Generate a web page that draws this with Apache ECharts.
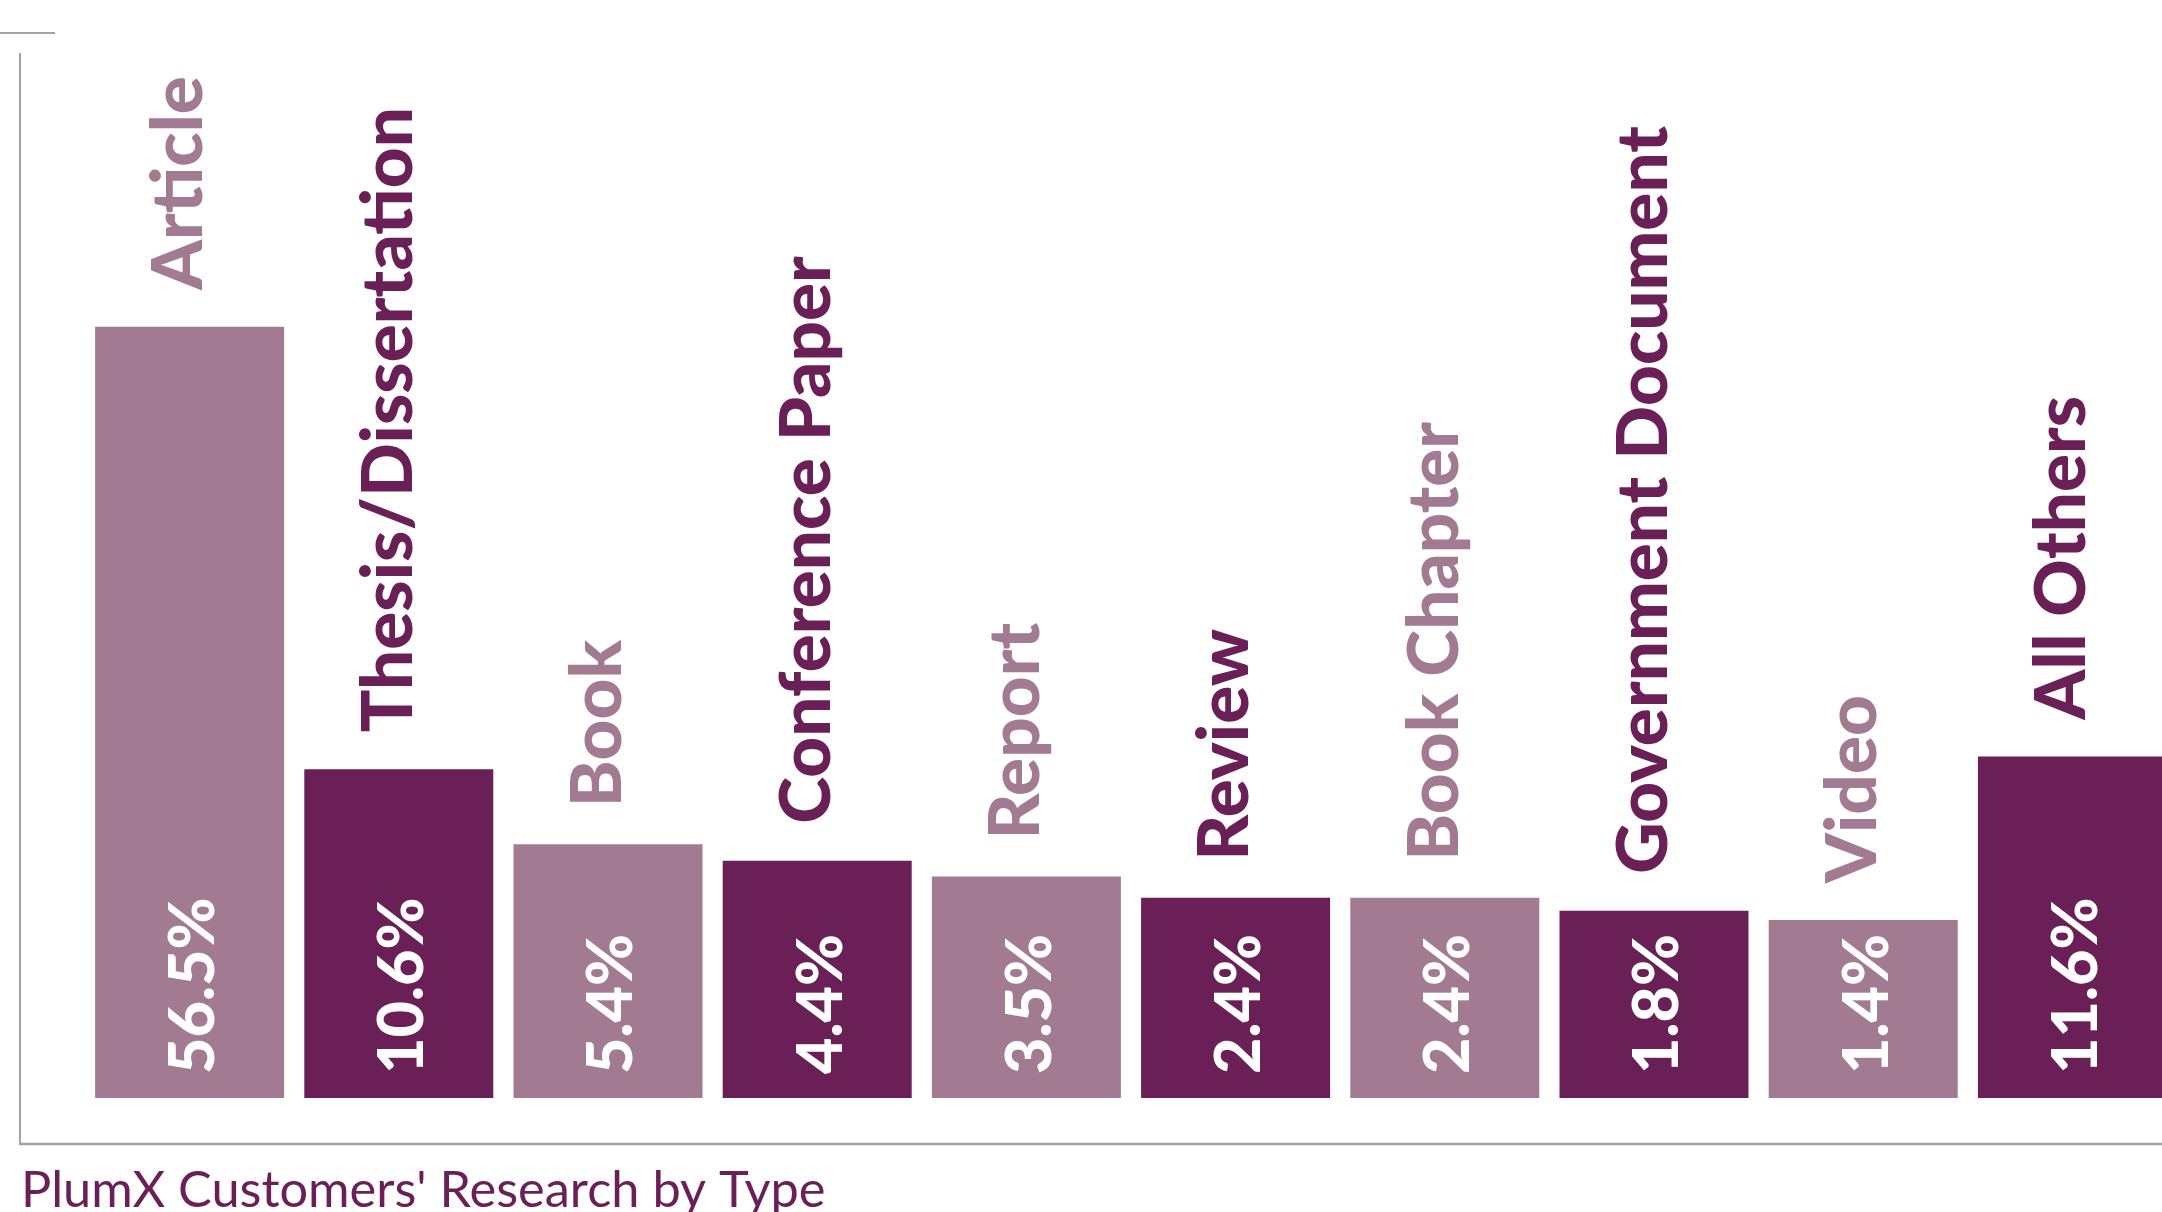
<!DOCTYPE html>
<html>
<head>
<meta charset="utf-8">
<title>PlumX Customers' Research by Type</title>
<script src="https://cdn.jsdelivr.net/npm/echarts@6/dist/echarts.min.js"></script>
<style>
  html, body { margin: 0; padding: 0; background: #ffffff; }
  #chart { width: 2162px; height: 1212px; }
</style>
</head>
<body>
<div id="chart"></div>
<script>
// Research output types and their share of all items (%)
const categories = [
  'Article', 'Thesis/Dissertation', 'Book', 'Conference Paper', 'Report',
  'Review', 'Book Chapter', 'Government Document', 'Video', 'All Others'
];
const shares = [56.5, 10.6, 5.4, 4.4, 3.5, 2.4, 2.4, 1.8, 1.4, 11.6];

const LIGHT = '#a27b93';
const DARK = '#6a1f57';
const FRAME = '#a3a3a3';

// Alternate the two plum tones across the bars
const tone = i => (i % 2 ? DARK : LIGHT);

// Compressed height scale (offset power curve) so the small
// categories keep enough room for their rotated labels
const SCALE_EXP = 0.7;
const SCALE_BASE = 3.41;
const scaled = v => SCALE_BASE + Math.pow(v, SCALE_EXP);

const chart = echarts.init(document.getElementById('chart'), null, { renderer: 'canvas' });

const labelFont = { fontFamily: 'Lato', fontWeight: 900 };

chart.setOption({
  animation: false,
  backgroundColor: '#ffffff',
  title: {
    text: "PlumX Customers' Research by Type",
    left: 16,
    top: 1160,
    textStyle: { fontFamily: 'Lato', fontWeight: 'normal', fontSize: 50.5, color: DARK }
  },
  // the last bar runs past the right edge of the page
  grid: { left: 85, width: 2092, bottom: 114, height: 952, outerBoundsMode: 'none' },
  xAxis: {
    type: 'category',
    data: categories,
    axisLine: { show: false },
    axisTick: { show: false },
    axisLabel: { show: false },
    splitLine: { show: false }
  },
  yAxis: {
    type: 'value',
    min: 0,
    max: 25,
    show: false
  },
  series: [
    {
      // bars with the share printed inside, at the base
      type: 'bar',
      barWidth: 189,
      data: shares.map((v, i) => ({ value: scaled(v), itemStyle: { color: tone(i) } })),
      label: {
        show: true,
        position: 'insideBottom',
        distance: 24,
        rotate: 90,
        align: 'left',
        verticalAlign: 'middle',
        offset: [0, 4],
        color: '#ffffff',
        fontSize: 63,
        ...labelFont,
        formatter: p => shares[p.dataIndex].toFixed(1) + '%'
      }
    },
    {
      // overlay carrying the category names above each bar
      type: 'bar',
      barWidth: 189,
      barGap: '-100%',
      silent: true,
      data: shares.map((v, i) => ({
        value: scaled(v),
        itemStyle: { color: 'rgba(0,0,0,0)' },
        label: { color: tone(i) }
      })),
      label: {
        show: true,
        position: 'top',
        distance: 37,
        rotate: 90,
        align: 'left',
        verticalAlign: 'middle',
        offset: [0, -10],
        fontSize: 71,
        ...labelFont,
        formatter: p => categories[p.dataIndex]
      }
    }
  ],
  graphic: [
    // frame: short top rule, left rule and bottom rule
    { type: 'line', shape: { x1: 0, y1: 33, x2: 55, y2: 33 }, style: { stroke: FRAME, lineWidth: 2 } },
    { type: 'line', shape: { x1: 20, y1: 53, x2: 20, y2: 1145 }, style: { stroke: FRAME, lineWidth: 2 } },
    { type: 'line', shape: { x1: 20, y1: 1144, x2: 2162, y2: 1144 }, style: { stroke: FRAME, lineWidth: 2.5 } }
  ]
});
</script>
</body>
</html>
